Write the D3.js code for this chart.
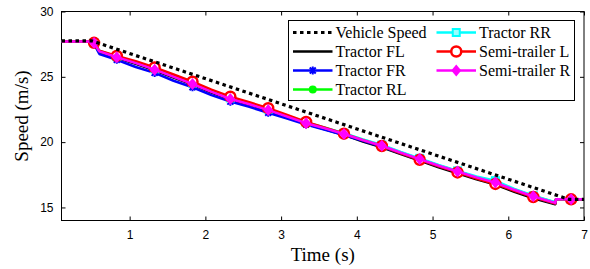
<!DOCTYPE html>
<html>
<head>
<meta charset="utf-8">
<script src="https://cdn.jsdelivr.net/npm/d3@7"></script>
<style>
  body { margin: 0; background: #fff; }
  .tick text { font-family: "Liberation Sans", Arial, sans-serif; font-size: 12px; }
</style>
</head>
<body>
<div id="chartBox"></div>
<script>
(function () {
  'use strict';

  // vehicle speed reference
  var tVehicle = [0.1, 0.5, 6.8, 7.0];
  var vVehicle = [27.75, 27.75, 15.62, 15.62];

  // wheel speeds, shared time base
  var tWheel = [0.1, 0.5, 0.53, 0.6, 0.83, 1.08, 1.33, 1.58, 1.83, 2.08, 2.33, 2.58, 2.83, 3.08, 3.33,
                3.58, 3.83, 4.08, 4.33, 4.58, 4.83, 5.08, 5.33, 5.58, 5.83, 6.08, 6.33, 6.62, 6.63, 6.83, 7.0];
  var tMarker = [0.53, 0.83, 1.33, 1.83, 2.33, 2.83, 3.33, 3.83, 4.33, 4.83, 5.33, 5.83, 6.33, 6.83];

  var vFL = [27.7, 27.7, 27.55, 26.9, 26.45, 26.0, 25.5, 24.95, 24.4, 23.8, 23.25, 22.85, 22.4, 21.9, 21.4,
             20.98, 20.55, 20.05, 19.6, 19.08, 18.58, 18.08, 17.62, 17.15, 16.75, 16.2, 15.7, 15.25, 15.62, 15.62, 15.62];
  var vFR = [27.7, 27.7, 27.5, 26.75, 26.3, 25.75, 25.3, 24.7, 24.2, 23.6, 23.1, 22.7, 22.25, 21.8, 21.35,
             20.95, 20.55, 20.1, 19.65, 19.15, 18.65, 18.15, 17.7, 17.25, 16.85, 16.3, 15.8, 15.3, 15.62, 15.62, 15.62];
  var vRL = [27.7, 27.7, 27.6, 26.95, 26.55, 26.1, 25.6, 25.05, 24.5, 23.9, 23.35, 22.95, 22.5, 22.0, 21.5,
             21.08, 20.65, 20.18, 19.75, 19.22, 18.72, 18.22, 17.78, 17.32, 16.92, 16.38, 15.88, 15.38, 15.62, 15.62, 15.62];
  var vRR = [27.7, 27.7, 27.6, 27.0, 26.55, 26.1, 25.62, 25.08, 24.52, 23.92, 23.38, 22.98, 22.52, 22.02, 21.52,
             21.1, 20.68, 20.2, 19.78, 19.25, 18.76, 18.25, 17.8, 17.38, 17.05, 16.42, 15.9, 15.4, 15.62, 15.62, 15.62];
  var vSL = [27.7, 27.7, 27.6, 27.0, 26.6, 26.2, 25.72, 25.18, 24.62, 24.02, 23.48, 23.05, 22.6, 22.08, 21.55,
             21.1, 20.65, 20.15, 19.7, 19.15, 18.65, 18.15, 17.68, 17.22, 16.8, 16.28, 15.8, 15.3, 15.62, 15.62, 15.62];
  var vSR = [27.7, 27.7, 27.58, 26.95, 26.5, 26.05, 25.55, 25.0, 24.45, 23.85, 23.3, 22.9, 22.45, 21.95, 21.45,
             21.05, 20.62, 20.15, 19.72, 19.2, 18.7, 18.2, 17.75, 17.3, 16.9, 16.35, 15.85, 15.35, 15.62, 15.62, 15.62];

  var xTicks = [1, 2, 3, 4, 5, 6, 7];
  var yTicks = [15, 20, 25, 30];

  var series = [
    { name: "Tractor FL", color: "#000000", values: vFL, marker: "none" },
    { name: "Tractor FR", color: "#0000ff", values: vFR, marker: "x" },
    { name: "Tractor RL", color: "#00ff00", values: vRL, marker: "dot" },
    { name: "Tractor RR", color: "#00ffff", values: vRR, marker: "square" },
    { name: "Semi-trailer L", color: "#ff0000", values: vSL, marker: "circle" },
    { name: "Semi-trailer R", color: "#ff00ff", values: vSR, marker: "diamond" }
  ];

  var outerWidth = 590,
      outerHeight = 269,
      margin = { top: 11.5, right: 6, bottom: 48.5, left: 61.5 },
      width = outerWidth - margin.left - margin.right,
      height = outerHeight - margin.top - margin.bottom;

  var svg = d3.select("#chartBox").append("svg")
    .attr("width", outerWidth)
    .attr("height", outerHeight);

  var g = svg.append("g")
    .attr("transform", "translate(" + margin.left + "," + margin.top + ")");

  var x = d3.scaleLinear().domain([0.1, 7]).range([0, width]);
  var y = d3.scaleLinear().domain([14, 30]).range([height, 0]);

  // axes, MATLAB style box with inward ticks
  var tk = 4;
  g.append("g").attr("transform", "translate(0," + height + ")")
    .call(d3.axisBottom(x).tickValues(xTicks).tickSizeInner(-tk).tickSizeOuter(0).tickPadding(10).tickFormat(d3.format("d")));
  g.append("g")
    .call(d3.axisTop(x).tickValues(xTicks).tickSizeInner(-tk).tickSizeOuter(0).tickFormat(""));
  g.append("g")
    .call(d3.axisLeft(y).tickValues(yTicks).tickSizeInner(-tk).tickSizeOuter(0).tickPadding(8));
  g.append("g").attr("transform", "translate(" + width + ",0)")
    .call(d3.axisRight(y).tickValues(yTicks).tickSizeInner(-tk).tickSizeOuter(0).tickFormat(""));
  g.selectAll(".domain").remove();
  g.selectAll(".tick line").attr("stroke", "#000");
  g.selectAll(".tick text").attr("fill", "#000");
  g.append("rect")
    .attr("width", width).attr("height", height)
    .attr("fill", "none").attr("stroke", "#000").attr("stroke-width", 1);

  var clip = g.append("clipPath").attr("id", "clip")
    .append("rect").attr("width", width).attr("height", height);

  var plot = g.append("g").attr("clip-path", "url(#clip)");

  var line = d3.line()
    .x(function (d) { return x(d[0]); })
    .y(function (d) { return y(d[1]); });

  function drawMarker(sel, type, color) {
    if (type === "x") {
      sel.append("path").attr("d", "M-3,-3L3,3M-3,3L3,-3M0,-4L0,4")
        .attr("stroke", color).attr("stroke-width", 2).attr("fill", "none");
    } else if (type === "dot") {
      sel.append("circle").attr("r", 4).attr("fill", color);
    } else if (type === "square") {
      sel.append("rect").attr("x", -3.5).attr("y", -3.5).attr("width", 7).attr("height", 7)
        .attr("fill", "#9ff").attr("stroke", color).attr("stroke-width", 2);
    } else if (type === "circle") {
      sel.append("circle").attr("r", 5).attr("fill", "#fff").attr("stroke", color).attr("stroke-width", 2.5);
    } else if (type === "diamond") {
      sel.append("path").attr("d", "M0,-6L5,0L0,6L-5,0Z").attr("fill", color);
    }
  }

  series.forEach(function (s) {
    var pts = tWheel.map(function (t, i) { return [t, s.values[i]]; });
    plot.append("path")
      .datum(pts)
      .attr("d", line)
      .attr("fill", "none")
      .attr("stroke", s.color)
      .attr("stroke-width", 2.5)
      .attr("stroke-linejoin", "round");
    if (s.marker !== "none") {
      var mk = pts.filter(function (p) { return tMarker.indexOf(p[0]) >= 0; });
      plot.selectAll(null).data(mk).enter().append("g")
        .attr("transform", function (d) { return "translate(" + x(d[0]) + "," + y(d[1]) + ")"; })
        .each(function () { drawMarker(d3.select(this), s.marker, s.color); });
    }
  });

  plot.append("path")
    .datum(tVehicle.map(function (t, i) { return [t, vVehicle[i]]; }))
    .attr("d", line)
    .attr("fill", "none")
    .attr("stroke", "#000")
    .attr("stroke-width", 3.2)
    .attr("stroke-dasharray", "3.5,3.5");

  // legend
  var leg = g.append("g").attr("transform", "translate(" + (288.5 - margin.left) + "," + (20.5 - margin.top) + ")");
  leg.append("rect").attr("width", 286).attr("height", 80)
    .attr("fill", "#fff").attr("stroke", "#000").attr("stroke-width", 1);

  var legItems = [{ name: "Vehicle Speed", color: "#000", marker: "none", dotted: true }].concat(series);
  legItems.forEach(function (s, i) {
    var col = i < 4 ? 0 : 1,
        row = i < 4 ? i : i - 4,
        lx = col === 0 ? 4.5 : 148,
        ly = 12 + row * 19;
    var it = leg.append("g").attr("transform", "translate(" + lx + "," + ly + ")");
    it.append("line").attr("x1", 0).attr("x2", 39.5).attr("y1", 0).attr("y2", 0)
      .attr("stroke", s.color)
      .attr("stroke-width", s.dotted ? 3.2 : 2.5)
      .attr("stroke-dasharray", s.dotted ? "3.5,3.5" : null);
    if (s.marker !== "none") {
      var mg = it.append("g").attr("transform", "translate(19.75,0)");
      drawMarker(mg, s.marker, s.color);
    }
    it.append("text").attr("x", 42.5).attr("y", 5.5)
      .style("font-family", "'Liberation Serif', 'Times New Roman', serif")
      .style("font-size", "16px")
      .text(s.name);
  });

  // axis titles
  svg.append("text")
    .attr("x", margin.left + width / 2).attr("y", 261)
    .attr("text-anchor", "middle")
    .style("font-family", "'Liberation Serif', 'Times New Roman', serif")
    .style("font-size", "19px")
    .text("Time (s)");
  svg.append("text")
    .attr("transform", "translate(28," + (margin.top + height / 2) + ") rotate(-90)")
    .attr("text-anchor", "middle")
    .style("font-family", "'Liberation Serif', 'Times New Roman', serif")
    .style("font-size", "19px")
    .text("Speed (m/s)");
})();
</script>
</body>
</html>
